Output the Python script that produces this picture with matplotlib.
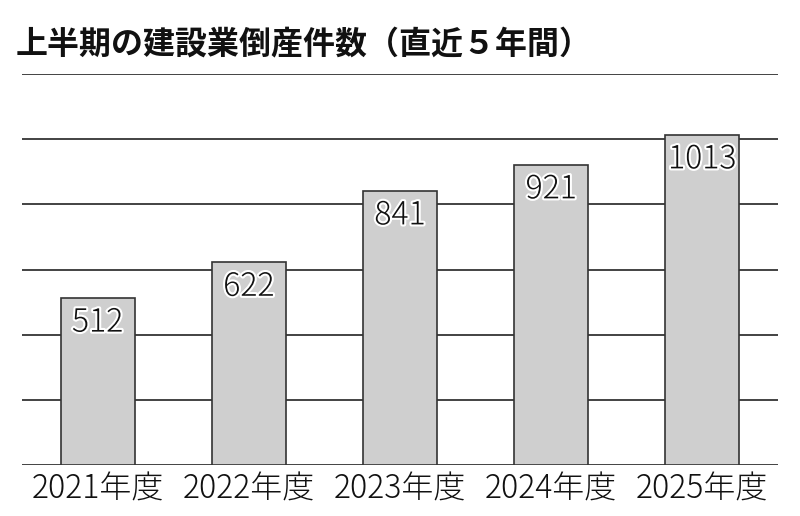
import matplotlib
matplotlib.use("Agg")
import matplotlib.pyplot as plt
import matplotlib.patheffects as pe

plt.rcParams['font.family'] = ['Noto Sans CJK JP', 'DejaVu Sans']

years = ["2021年度", "2022年度", "2023年度", "2024年度", "2025年度"]
counts = [512, 622, 841, 921, 1013]
grid_ticks = [0, 200, 400, 600, 800, 1000, 1200]

fig = plt.figure(figsize=(8, 5.16), dpi=100)
ax = fig.add_axes([22/800, 1 - 465/516, 756/800, (465 - 74)/516])

for t in grid_ticks:
    ax.axhline(t, color="#222222", lw=1.2, zorder=1)

x = range(len(years))
bars = ax.bar(x, counts, width=0.49, color="#cfcfcf", edgecolor="#333333",
              linewidth=1.2, zorder=2)

for xi, v in zip(x, counts):
    ax.annotate(str(v), (xi, v), xytext=(0, -5), textcoords="offset points",
                ha="center", va="top", fontsize=23, fontweight="light",
                color="#111111", zorder=3,
                path_effects=[pe.withStroke(linewidth=3, foreground="white")])

ax.set_xlim(-0.5, len(years) - 0.5)
ax.set_ylim(0, 1200)
ax.set_xticks(list(x))
ax.set_xticklabels(years, fontsize=23, fontweight="light", color="#111111")
ax.tick_params(axis="x", length=0, pad=5)
ax.set_yticks([])
for s in ax.spines.values():
    s.set_visible(False)

fig.text(16/800, 1 - 45/516, "上半期の建設業倒産件数（直近５年間）", fontsize=23,
         fontweight="bold", va="center", ha="left", color="#111111")

fig.savefig("out.png", dpi=100)
